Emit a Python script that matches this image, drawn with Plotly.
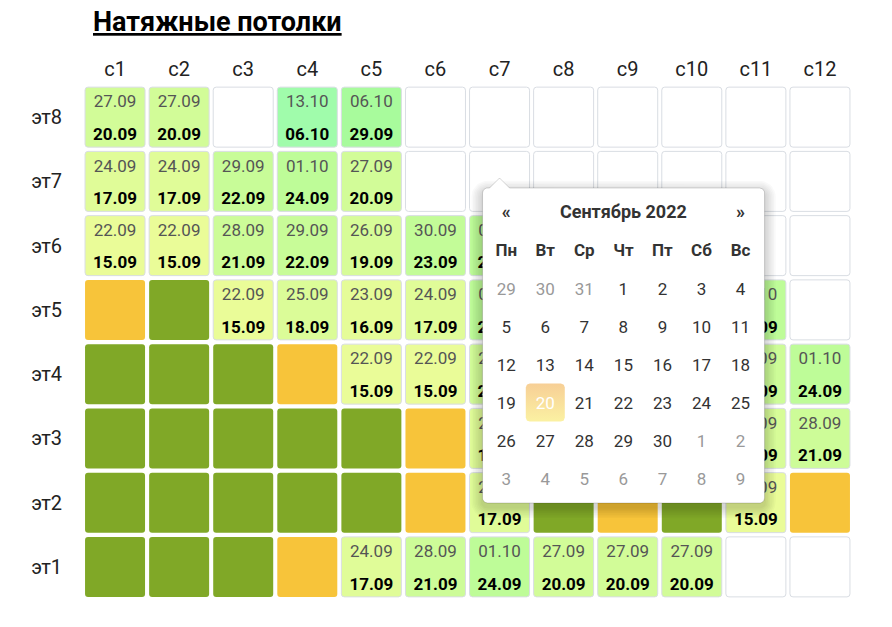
import datetime as dt
import numpy as np
import plotly.graph_objects as go
from plotly.colors import sample_colorscale

# ---------------- data ----------------
title = "Натяжные потолки"
floors = ["эт8", "эт7", "эт6", "эт5", "эт4", "эт3", "эт2", "эт1"]
sections = ["с1", "с2", "с3", "с4", "с5", "с6", "с7", "с8", "с9", "с10", "с11", "с12"]

# p = planned (dates shown), d = done (dark green), w = in work (orange), - = empty
status = [
    "pp-pp-------",   # эт8
    "ppppp-------",   # эт7
    "ppppppp-----",   # эт6
    "wdppppp---p-",   # эт5
    "dddwppp---pp",   # эт4
    "dddddwp---pp",   # эт3
    "dddddwpdwdpw",   # эт2
    "dddwpppppp--",   # эт1
]
plan_dates = [
    ["27.09", "27.09", "", "13.10", "06.10", "", "", "", "", "", "", ""],
    ["24.09", "24.09", "29.09", "01.10", "27.09", "", "", "", "", "", "", ""],
    ["22.09", "22.09", "28.09", "29.09", "26.09", "30.09", "01.10", "", "", "", "", ""],
    ["", "", "22.09", "25.09", "23.09", "24.09", "01.10", "", "", "", "01.10", ""],
    ["", "", "", "", "22.09", "22.09", "27.09", "", "", "", "28.09", "01.10"],
    ["", "", "", "", "", "", "24.09", "", "", "", "26.09", "28.09"],
    ["", "", "", "", "", "", "24.09", "", "", "", "22.09", ""],
    ["", "", "", "", "24.09", "28.09", "01.10", "27.09", "27.09", "27.09", "", ""],
]
due_dates = [
    ["20.09", "20.09", "", "06.10", "29.09", "", "", "", "", "", "", ""],
    ["17.09", "17.09", "22.09", "24.09", "20.09", "", "", "", "", "", "", ""],
    ["15.09", "15.09", "21.09", "22.09", "19.09", "23.09", "24.09", "", "", "", "", ""],
    ["", "", "15.09", "18.09", "16.09", "17.09", "24.09", "", "", "", "24.09", ""],
    ["", "", "", "", "15.09", "15.09", "20.09", "", "", "", "21.09", "24.09"],
    ["", "", "", "", "", "", "17.09", "", "", "", "19.09", "21.09"],
    ["", "", "", "", "", "", "17.09", "", "", "", "15.09", ""],
    ["", "", "", "", "17.09", "21.09", "24.09", "20.09", "20.09", "20.09", "", ""],
]
year = 2022

calendar_title = "Сентябрь 2022"
weekday_names = ["Пн", "Вт", "Ср", "Чт", "Пт", "Сб", "Вс"]
cal_year, cal_month = 2022, 9
selected_day = dt.date(2022, 9, 20)
anchor_section, anchor_floor = "с7", "эт7"

# ---------------- geometry / style ----------------
OFF = 8                      # page body margin
FW, FH = 892 - 2 * OFF, 627 - 2 * OFF
L, T, W, H = 83, 85, 769, 514   # plot area in page pixels
NC, NR = len(sections), len(floors)
FONT = "Roboto"
TXT_DY = 2.0                 # text baseline correction (px, downward)


def px2x(px):
    return 0.5 + (px - L) / W * NC


def py2y(py):
    return NR + 0.5 - (py - T) / H * NR


def x2px(x):
    return L + (x - 0.5) / NC * W


SX, SY = NC / W, NR / H  # data units per pixel

scale = [[0, "#eafc98"], [0.43, "#befc98"], [0.67, "#a8fb9c"], [1, "#a0fcab"]]
ref_day = dt.date(year, 9, 15)


def due_color(s):
    d, m = map(int, s.split("."))
    t = (dt.date(year, m, d) - ref_day).days / 21
    return sample_colorscale(scale, [min(max(t, 0), 1)])[0]


def rrect_path(xc, yc, hw_px, hh_px, r_px):
    hw, hh, rx, ry = hw_px * SX, hh_px * SY, r_px * SX, r_px * SY
    x0, x1, y0, y1 = xc - hw, xc + hw, yc - hh, yc + hh
    return (f"M{x0+rx},{y1} L{x1-rx},{y1} Q{x1},{y1} {x1},{y1-ry} "
            f"L{x1},{y0+ry} Q{x1},{y0} {x1-rx},{y0} L{x0+rx},{y0} "
            f"Q{x0},{y0} {x0},{y0+ry} L{x0},{y1-ry} Q{x0},{y1} {x0+rx},{y1} Z")


def rounded_poly(x0, y0, x1, y1, r, arrow=None, n=10):
    pts = []

    def arc(cx, cy, a0, a1):
        for a in np.linspace(a0, a1, n):
            pts.append((cx + r * np.cos(np.radians(a)), cy + r * np.sin(np.radians(a))))

    arc(x0 + r, y0 + r, 180, 270)
    if arrow is not None:
        ax, ah, aw = arrow
        pts += [(ax - aw, y0), (ax, y0 - ah), (ax + aw, y0)]
    arc(x1 - r, y0 + r, 270, 360)
    arc(x1 - r, y1 - r, 0, 90)
    arc(x0 + r, y1 - r, 90, 180)
    pts.append(pts[0])
    return [px2x(p[0]) for p in pts], [py2y(p[1]) for p in pts]


fig = go.Figure()
shapes = []

plan_x, plan_y, plan_t = [], [], []
due_x, due_y, due_t = [], [], []
for r, fl in enumerate(floors):
    yv = NR - r
    for c in range(NC):
        xv = c + 1
        st = status[r][c]
        if st == "d":
            fill, lw = "#80a827", 0
        elif st == "w":
            fill, lw = "#f7c43a", 0
        elif st == "p":
            fill, lw = due_color(due_dates[r][c]), 1
        else:
            fill, lw = "white", 1
        shapes.append(dict(type="path", xref="x", yref="y", layer="below",
                           path=rrect_path(xv, yv, 30.0, 30.0, 3),
                           fillcolor=fill,
                           line=dict(color="#d9dde3", width=lw)))
        if st == "p":
            plan_x.append(xv); plan_y.append(yv + (16.1 - TXT_DY) * SY); plan_t.append(plan_dates[r][c])
            due_x.append(xv); due_y.append(yv - (16.6 + TXT_DY) * SY); due_t.append(f"<b>{due_dates[r][c]}</b>")

fig.add_trace(go.Scatter(x=plan_x, y=plan_y, text=plan_t, mode="text", hoverinfo="skip",
                         textfont=dict(family=FONT, size=17, color="#555555")))
fig.add_trace(go.Scatter(x=due_x, y=due_y, text=due_t, mode="text", hoverinfo="skip",
                         textfont=dict(family=FONT, size=17, color="#000000")))

# ---------------- datepicker popup ----------------
ax_px = x2px(sections.index(anchor_section) + 1)
pop_x0, pop_y0, pop_x1, pop_y1 = ax_px - 17, 188, ax_px + 265, 503

for k in range(1, 8):
    e = 1.6 * k
    xs, ys = rounded_poly(pop_x0 - e, pop_y0 - e + 4, pop_x1 + e, pop_y1 + e + 4, 5 + e)
    fig.add_trace(go.Scatter(x=xs, y=ys, fill="toself", fillcolor="rgba(0,0,0,0.024)",
                             mode="lines", line=dict(width=0), hoverinfo="skip"))

xs, ys = rounded_poly(pop_x0, pop_y0, pop_x1, pop_y1, 5, arrow=(ax_px, 10, 10))
fig.add_trace(go.Scatter(x=xs, y=ys, fill="toself", fillcolor="white", mode="lines",
                         line=dict(color="rgba(0,0,0,0.16)", width=1), hoverinfo="skip"))

col_px = [pop_x0 + 23.7 + 39.05 * k for k in range(7)]
head_py, wd_py, row0_py, row_step = 211.7, 250, 288.3, 38.1

first = dt.date(cal_year, cal_month, 1)
start = first - dt.timedelta(days=first.weekday())
days = [start + dt.timedelta(days=i) for i in range(42)]

# selected-day highlight
si = days.index(selected_day)
scx, scy = col_px[si % 7], row0_py + row_step * (si // 7)
xs, ys = rounded_poly(scx - 19.5, scy - 19, scx + 19.5, scy + 19, 4)
fig.add_trace(go.Scatter(x=xs, y=ys, fill="toself", mode="lines", line=dict(width=0),
                         fillgradient=dict(type="vertical",
                                           colorscale=[[0, "#fbf1a2"], [1, "#f7cf96"]]),
                         hoverinfo="skip"))

fig.add_trace(go.Scatter(
    x=[px2x(col_px[0]), px2x((col_px[0] + col_px[6]) / 2), px2x(col_px[6])],
    y=[py2y(head_py + TXT_DY)] * 3, text=["«", calendar_title, "»"], mode="text",
    hoverinfo="skip", textfont=dict(family=FONT, size=18, color="#333333", weight="bold")))
fig.add_trace(go.Scatter(
    x=[px2x(p) for p in col_px], y=[py2y(wd_py + TXT_DY)] * 7, text=weekday_names, mode="text",
    hoverinfo="skip", textfont=dict(family=FONT, size=17, color="#333333", weight="bold")))

groups = {"cur": ([], [], []), "oth": ([], [], []), "sel": ([], [], [])}
for i, d in enumerate(days):
    key = "sel" if d == selected_day else ("cur" if d.month == cal_month else "oth")
    gx, gy, gt = groups[key]
    gx.append(px2x(col_px[i % 7]))
    gy.append(py2y(row0_py + row_step * (i // 7) + TXT_DY))
    gt.append(str(d.day))
for key, colr in (("cur", "#333333"), ("oth", "#999999"), ("sel", "#ffffff")):
    gx, gy, gt = groups[key]
    fig.add_trace(go.Scatter(x=gx, y=gy, text=gt, mode="text", hoverinfo="skip",
                             textfont=dict(family=FONT, size=17, color=colr)))

fig.add_annotation(xref="paper", yref="paper", x=(91 - L) / W, y=1 + (T - 22) / H,
                   xanchor="left", yanchor="middle", showarrow=False,
                   text=f"<u>{title}</u>",
                   font=dict(family=FONT, size=27, color="#000000", weight="bold"))

fig.update_layout(
    width=FW, height=FH,
    margin=dict(l=L - OFF, r=FW - (L - OFF) - W, t=T - OFF, b=FH - (T - OFF) - H),
    paper_bgcolor="white", plot_bgcolor="white", showlegend=False, shapes=shapes,
    xaxis=dict(range=[0.5, NC + 0.5], side="top", tickvals=list(range(1, NC + 1)),
               ticktext=sections, showgrid=False, zeroline=False, showline=False,
               ticks="", ticklabelstandoff=4, fixedrange=True,
               tickfont=dict(family=FONT, size=20, color="#222222")),
    yaxis=dict(range=[0.5, NR + 0.5], tickvals=[NR - i for i in range(NR)],
               ticktext=floors, showgrid=False, zeroline=False, showline=False,
               ticks="", ticklabelstandoff=20, fixedrange=True,
               tickfont=dict(family=FONT, size=20, color="#222222")),
)

fig.write_html("out.html")
